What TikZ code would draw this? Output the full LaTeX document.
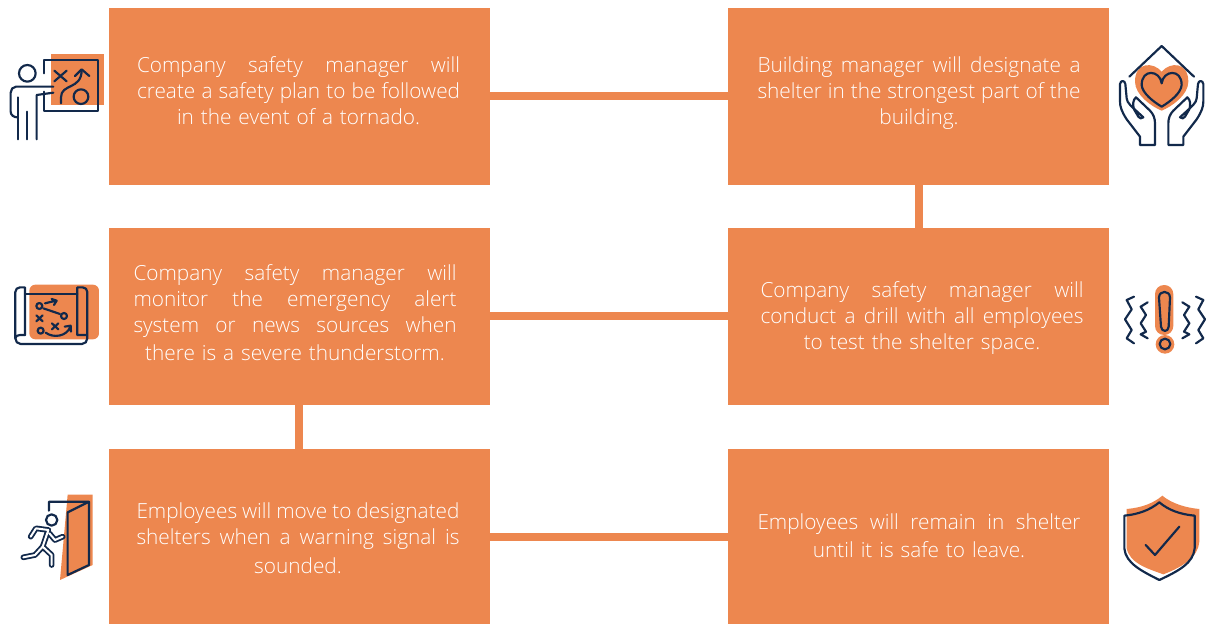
\documentclass[tikz,border=0pt]{standalone}
\usepackage{fontspec}
\setmainfont{Open Sans Light}
\definecolor{boxor}{HTML}{ED874F}
\definecolor{iconnavy}{HTML}{12294B}
\newcommand{\sln}[1]{\leavevmode\hbox to 323pt{\spaceskip=0.26em plus 1fil minus 1fil\relax #1}}
\tikzset{
  boxnode/.style={fill=boxor,draw=none,minimum width=381pt,inner sep=0pt,anchor=north west},
  textnode/.style={text=white,font=\fontsize{20.8}{26}\selectfont,align=center,inner sep=0pt,text width=323pt},
  link/.style={draw=boxor,line width=8pt},
  ic/.style={draw=iconnavy,line width=6.5*0.3333pt,line cap=round,line join=round,fill=none},
  zoomed/.style={x=0.3333pt,y=-0.3333pt}
}
\begin{document}
\begin{tikzpicture}[x=1pt,y=-1pt]
\useasboundingbox (0,0) rectangle (1210,624);
\node[boxnode,minimum height=177pt] (b1) at (109,8) {};
\node[boxnode,minimum height=177pt] (b2) at (728,8) {};
\node[boxnode,minimum height=177pt] (b3) at (109,228) {};
\node[boxnode,minimum height=177pt] (b4) at (728,228) {};
\node[boxnode,minimum height=175pt] (b5) at (109,449) {};
\node[boxnode,minimum height=175pt] (b6) at (728,449) {};
\draw[link] (b1.east |- 0,96) -- (b2.west |- 0,96);
\draw[link] (b2.south -| 919,0) -- (b4.north -| 919,0);
\draw[link] (b3.east |- 0,316) -- (b4.west |- 0,316);
\draw[link] (b3.south -| 299,0) -- (b5.north -| 299,0);
\draw[link] (b5.east |- 0,537) -- (b6.west |- 0,537);
\node[textnode] (t1) at (298.5,91) {\sln{Company safety manager will}\\\sln{create a safety plan to be followed}\\in the event of a tornado.};
\node[textnode] (t2) at (919,93.5) {\sln{Building manager will designate a}\\\sln{shelter in the strongest part of the}\\building.};
\node[textnode] (t3) at (295,313) {\sln{Company safety manager will}\\\sln{monitor the emergency alert}\\\sln{system or news sources when}\\[2pt]there is a severe thunderstorm.};
\node[textnode] (t4) at (922,318.5) {\sln{Company safety manager will}\\\sln{conduct a drill with all employees}\\to test the shelter space.};
\node[textnode] (t5) at (298,538) {\sln{Employees will move to designated}\\\sln{shelters when a warning signal is}\\[3pt]sounded.};
\node[textnode] (t6) at (919,536) {\sln{Employees will remain in shelter}\\[2pt]until it is safe to leave.};
% icon 1
\begin{scope}[shift={(0,40)},zoomed]
\fill[boxor] (153,42) rectangle (312,195);
\draw[ic] (133,100) -- (133,60) -- (293,60) -- (293,213) -- (133,213) -- (133,155);
\draw[ic] (82,100) circle (25pt*0.3333);
\draw[ic] (160,140) -- (48,140) to[out=180,in=90] (32,158) -- (32,215) to[out=-90,in=180] (52,232);
\draw[ic] (160,158) -- (110,165) -- (110,298);
\draw[ic] (55,172) -- (55,298);
\draw[ic] (82,215) -- (82,298);
\draw[ic] (163,92) -- (200,124) (200,92) -- (163,124);
\draw[ic] (183,190) -- (183,172) .. controls (183,130) and (245,150) .. (245,90);
\draw[ic] (225,108) -- (245,88) -- (268,108);
\draw[ic] (243,170) circle (22pt*0.3333);
\end{scope}
% icon 2
\begin{scope}[shift={(0,270)},zoomed]
\fill[boxor,rounded corners=6pt] (88,44) rectangle (297,208);
\draw[ic] (75,195) -- (75,52) -- (60,52) to[out=180,in=90] (46,66) -- (46,205) to[out=-90,in=180] (62,222) -- (246,222) to[out=0,in=-90] (262,205) -- (262,66) to[out=90,in=0] (248,52) -- (232,52) -- (232,195) -- (258,195);
\draw[ic] (46,205) to[out=90,in=180] (60,195) -- (75,195);
\draw[ic] (75,72) -- (232,72);
\draw[ic] (118,108) circle (9pt*0.3333) (192,138) circle (9pt*0.3333) (122,182) circle (9pt*0.3333);
\draw[ic] (135,100) -- (168,92) (155,87) -- (170,92) -- (162,105);
\draw[ic] (130,115) -- (180,132);
\draw[ic] (109,136) -- (128,154) (128,136) -- (109,154);
\draw[ic] (156,160) -- (175,178) (175,160) -- (156,178);
\draw[ic] (137,188) .. controls (160,205) and (200,200) .. (211,170) (194,170) -- (212,167) -- (213,185);
\end{scope}
% icon 3
\begin{scope}[shift={(0,480)},zoomed]
\fill[boxor] (203,44) -- (278,44) -- (278,255) -- (180,300) -- cycle;
\draw[ic] (147,92) -- (147,65) -- (267,65) -- (267,255) -- (203,285) -- (203,97) -- (267,65);
\draw[ic] (155,120) circle (17pt*0.3333);
\foreach \lw/\col in {17/iconnavy,6/white}{
\draw[line width=\lw*0.3333pt,color=\col,line cap=round,line join=round]
  (92,170) -- (108,145) -- (145,150) -- (128,200) -- (105,225) -- (70,232)
  (148,160) -- (165,180) -- (188,170)
  (128,200) -- (155,225) -- (155,255);
}
\end{scope}
% icon 4
\begin{scope}[shift={(1110,40)},zoomed]
\fill[boxor] (155,95) .. controls (130,65) and (75,65) .. (75,125) .. controls (75,165) and (125,200) .. (155,212) .. controls (185,200) and (235,165) .. (235,125) .. controls (235,65) and (180,65) .. (155,95) -- cycle;
\draw[ic] (155,130) .. controls (150,90) and (95,85) .. (95,135) .. controls (97,160) and (130,185) .. (155,200) .. controls (180,185) and (213,160) .. (215,135) .. controls (215,85) and (160,90) .. (155,130) -- cycle;
\draw[ic] (58,110) -- (155,18) -- (252,110);
\foreach \sca/\ox in {1/0,-1/310}{
\begin{scope}[xshift=\ox*0.3333pt,xscale=\sca]
\draw[ic] (90,315) -- (90,290) -- (50,238) .. controls (35,215) and (30,200) .. (30,185) -- (30,132) .. controls (32,120) and (44,120) .. (46,132) -- (50,175) .. controls (52,190) and (60,195) .. (100,232) .. controls (95,238) and (88,235) .. (85,230) -- (72,208) .. controls (68,195) and (68,180) .. (78,172) -- (120,212) .. controls (130,222) and (135,235) .. (135,250) -- (135,315) -- cycle;
\end{scope}}
\end{scope}
% icon 5
\begin{scope}[shift={(1110,275)},zoomed]
\fill[boxor,rounded corners=9pt] (135,30) rectangle (190,180);
\fill[boxor] (165,208) circle (28pt*0.3333);
\draw[ic] (147,68) .. controls (147,45) and (180,45) .. (180,68) -- (176,155) .. controls (175,172) and (155,172) .. (153,155) -- cycle;
\draw[ic] (165,207) circle (16pt*0.3333);
\draw[ic] (72,65) -- (50,75) -- (65,103) -- (45,133) -- (65,165) -- (50,190) -- (72,205);
\draw[ic] (113,82) -- (92,95) -- (108,120) -- (92,145) -- (108,170) -- (92,178) -- (113,190);
\draw[ic] (258,65) -- (280,75) -- (265,103) -- (285,133) -- (265,165) -- (280,190) -- (258,205);
\draw[ic] (217,82) -- (238,95) -- (222,120) -- (238,145) -- (222,170) -- (238,178) -- (217,190);
\end{scope}
% icon 6
\begin{scope}[shift={(1110,485)},zoomed]
\fill[boxor] (50,72) .. controls (95,68) and (130,55) .. (157,32) .. controls (185,55) and (225,68) .. (268,72) -- (268,170) .. controls (265,215) and (220,245) .. (160,268) .. controls (110,250) and (60,235) .. (50,190) -- cycle;
\draw[ic] (43,92) .. controls (85,88) and (120,75) .. (148,52) .. controls (175,75) and (210,88) .. (254,92) -- (254,190) .. controls (250,235) and (205,258) .. (148,285) .. controls (95,258) and (47,235) .. (43,190) -- cycle;
\draw[ic] (107,180) -- (135,210) -- (208,125);
\end{scope}
\end{tikzpicture}
\end{document}
